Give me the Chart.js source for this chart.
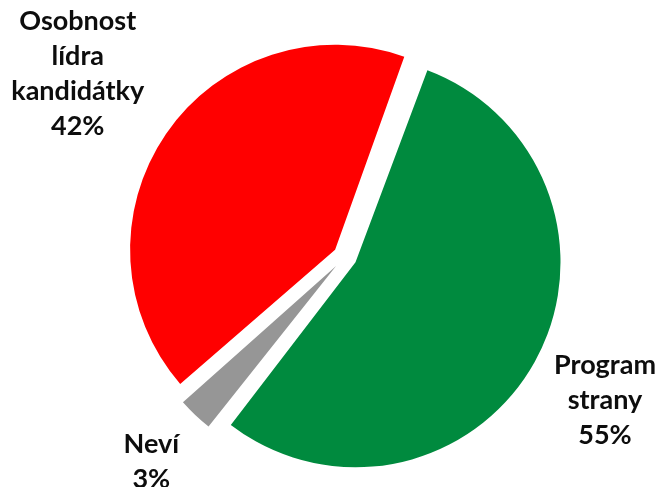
<!DOCTYPE html>
<html>
<head>
<meta charset="utf-8">
<script src="https://cdn.jsdelivr.net/npm/chart.js@4/dist/chart.umd.min.js"></script>
<style>
	html, body { margin: 0; padding: 0; background: #fff; }
	#wrap { width: 659px; height: 487px; }
</style>
</head>
<body>
<div id="wrap"><canvas id="chart-1"></canvas></div>
<script>
// data
var categories = [['Program', 'strany'], ['Neví'], ['Osobnost', 'lídra', 'kandidátky']];
var shares = [55, 3, 42];
var sliceColors = ['#008A3E', '#969696', '#FF0000'];

// draws the category + percent text outside each slice, and keeps
// exploded slices at the same radius (chart.js grows them by offset)
var sliceLabels = {
	id: 'sliceLabels',
	afterDatasetsUpdate: function(chart, args, opts){
		var meta = chart.getDatasetMeta(0);
		var offsets = chart.data.datasets[0].offset;
		meta.data.forEach(function(arc, i){
			var circ = arc.endAngle - arc.startAngle;
			var fix = 1 - Math.sin(Math.min(Math.PI, circ));
			arc.outerRadius = opts.radius - (offsets[i] / 4) * fix;
		});
	},
	afterDatasetsDraw: function(chart, args, opts){
		var ctx = chart.ctx;
		var meta = chart.getDatasetMeta(0);
		var total = shares.reduce(function(a, b){ return a + b; }, 0);
		ctx.save();
		ctx.fillStyle = opts.color;
		ctx.font = opts.font;
		ctx.textAlign = 'center';
		ctx.textBaseline = 'middle';
		meta.data.forEach(function(arc, i){
			var mid = (arc.startAngle + arc.endAngle) / 2;
			var d = opts.radius * opts.distance[i];
			var cx = arc.x + Math.cos(mid) * d;
			var cy = arc.y + Math.sin(mid) * d;
			var lines = categories[i].concat([Math.round(shares[i] / total * 100) + '%']);
			lines.forEach(function(txt, j){
				ctx.fillText(txt, cx, cy + (j - (lines.length - 1) / 2) * opts.lineHeight);
			});
		});
		ctx.restore();
	}
};

var chart = new Chart(document.getElementById('chart-1'), {
	type: 'pie',
	data: {
		labels: categories,
		datasets: [{
			data: shares,
			backgroundColor: sliceColors,
			borderWidth: 0,
			offset: [48, 52, 48]
		}]
	},
	options: {
		responsive: true,
		maintainAspectRatio: false,
		animation: false,
		rotation: 20,
		radius: 205,
		layout: { padding: { left: 31, right: 0, top: 26, bottom: 0 } },
		plugins: {
			legend: { display: false },
			tooltip: { enabled: false },
			sliceLabels: {
				radius: 205,
				distance: [1.45, 1.375, 1.58],
				lineHeight: 35,
				color: '#0d0d0d',
				font: 'bold 27px Lato'
			}
		}
	},
	plugins: [sliceLabels]
});
</script>
</body>
</html>
